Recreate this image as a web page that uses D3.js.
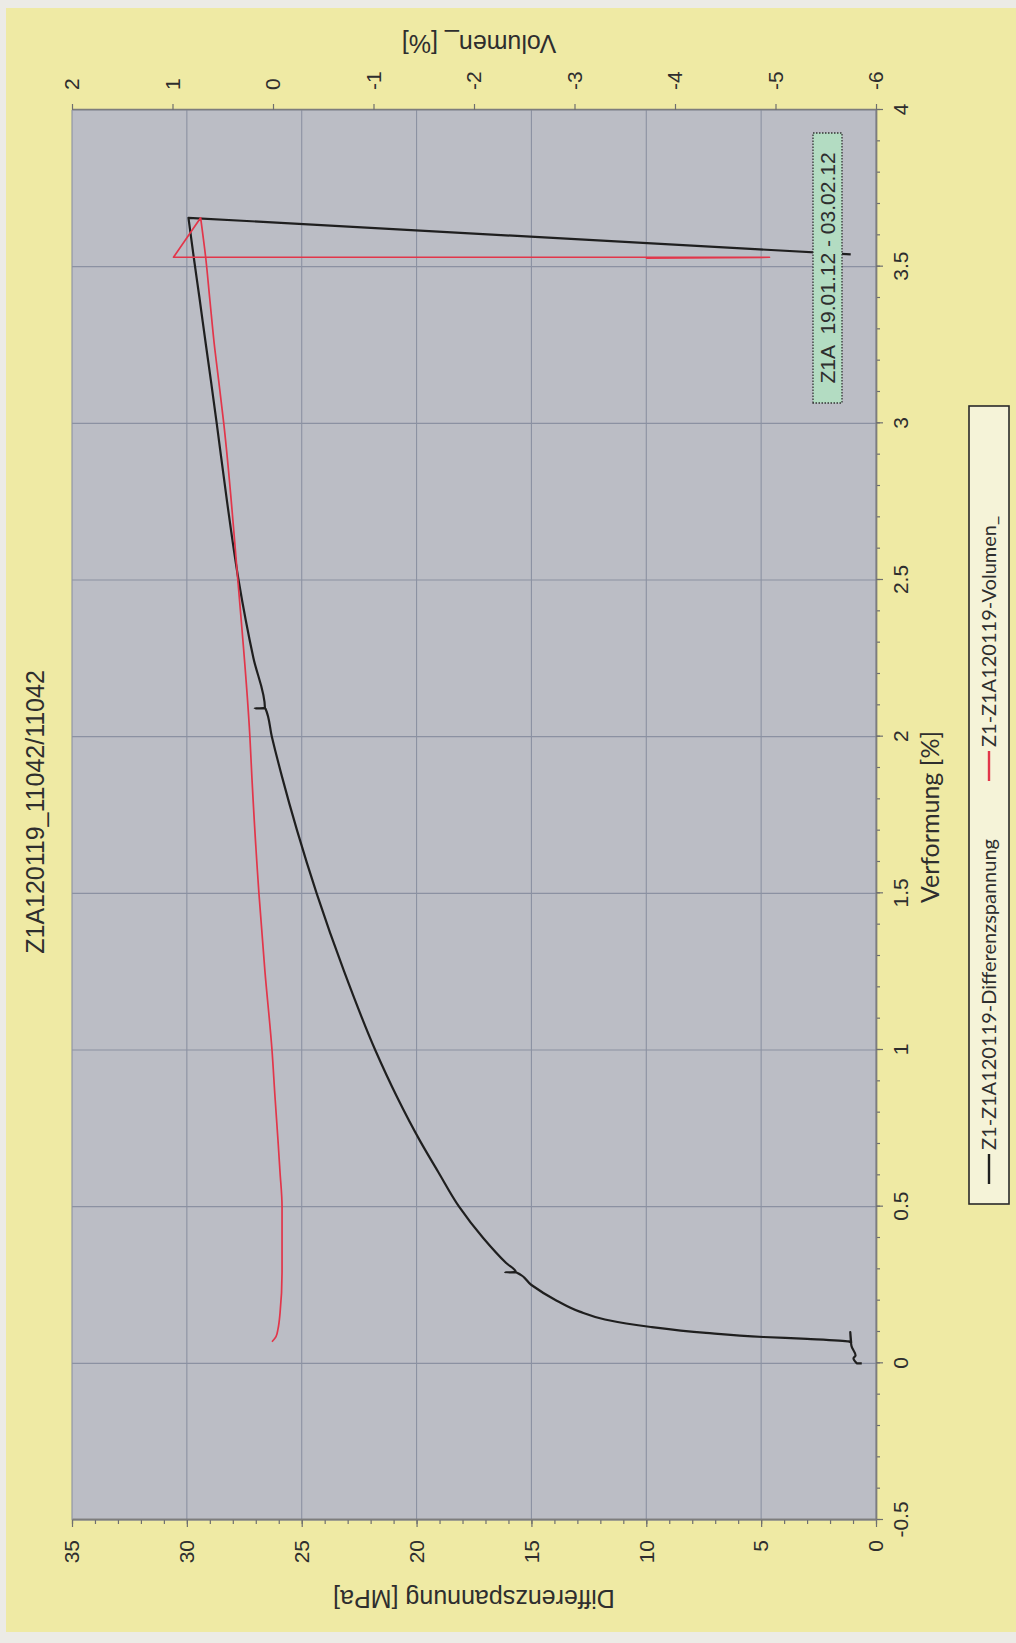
<!DOCTYPE html>
<html>
<head>
<meta charset="utf-8">
<script src="https://cdn.jsdelivr.net/npm/d3@7"></script>
<style>
  body { margin: 0; background: #ecebe6; }
  svg { display: block; }
</style>
</head>
<body>
<svg id="chart" width="1016" height="1643"></svg>
<script>
// ---- data -------------------------------------------------------------
const chartTitle = "Z1A120119_11042/11042";
const xTitle = "Verformung [%]";
const yLeftTitle = "Differenzspannung [MPa]";
const yRightTitle = "Volumen_ [%]";
const seriesNames = ["Z1-Z1A120119-Differenzspannung", "Z1-Z1A120119-Volumen_"];
const boxLabel = "Z1A  19.01.12 - 03.02.12";

const xTicks = [-0.5, 0, 0.5, 1, 1.5, 2, 2.5, 3, 3.5, 4];
const yLeftTicks = [0, 5, 10, 15, 20, 25, 30, 35];
const yRightTicks = [-6, -5, -4, -3, -2, -1, 0, 1, 2];

// Differenzspannung [MPa] over Verformung [%]
const verformungD = [0.000, 0.000, 0.016, 0.025, 0.056, 0.100, 0.066, 0.070, 0.078, 0.084,
  0.097, 0.116, 0.140, 0.165, 0.200, 0.250, 0.2900, 0.2905, 0.2910, 0.320, 0.400, 0.500,
  0.610, 0.710, 0.850, 1.000, 1.250, 1.500, 1.700, 1.870, 2.000, 2.0900, 2.0905, 2.0910,
  2.250, 2.500, 2.750, 3.000, 3.135, 3.250, 3.400, 3.530, 3.656, 3.540, 3.539];
const spannung = [0.62, 0.84, 0.98, 0.89, 1.07, 1.12, 1.08, 1.20, 3.00, 4.90,
  7.40, 9.80, 11.80, 12.90, 13.90, 15.00, 15.65, 16.15, 15.68, 16.10, 17.10, 18.15,
  19.05, 19.85, 20.85, 21.80, 23.15, 24.35, 25.20, 25.85, 26.30, 26.58, 27.05, 26.60,
  27.10, 27.75, 28.25, 28.70, 28.95, 29.17, 29.45, 29.70, 29.93, 1.30, 1.10];

// Volumen_ [%] over Verformung [%]
const verformungV = [0.069, 0.085, 0.110, 0.160, 0.290, 0.500, 0.610, 0.710, 0.850, 1.000,
  1.250, 1.500, 1.870, 2.000, 2.500, 3.000, 3.135, 3.240, 3.400, 3.530, 3.656, 3.530,
  3.530, 3.527];
const volumen = [0.01, -0.03, -0.05, -0.07, -0.09, -0.09, -0.07, -0.05, -0.02, 0.01,
  0.08, 0.14, 0.21, 0.23, 0.35, 0.49, 0.54, 0.58, 0.63, 0.67, 0.72, 0.99,
  -4.94, -3.71];

// ---- layout -----------------------------------------------------------
const PAGE_W = 1016, PAGE_H = 1643;
const plot = { left: 123, right: 1533, top: 72, bottom: 876 };   // landscape frame
const numFont = "'Liberation Sans', Arial, sans-serif";
const textFont = "Lato, 'Open Sans', sans-serif";
const ink = "#2e2e2e";

const svg = d3.select("#chart");
svg.append("rect").attr("width", PAGE_W).attr("height", PAGE_H).attr("fill", "#ecebe6");
svg.append("rect").attr("x", 6).attr("y", 8).attr("width", PAGE_W - 6).attr("height", 1624)
  .attr("fill", "#efeaa4");

// the chart is laid out in landscape and turned a quarter turn onto the page
const g = svg.append("g").attr("transform", `translate(0,${PAGE_H}) rotate(-90)`);

const x = d3.scaleLinear().domain([-0.5, 4]).range([plot.left, plot.right]);
const yL = d3.scaleLinear().domain([0, 35]).range([plot.bottom, plot.top]);
const yR = d3.scaleLinear().domain([-6, 2]).range([plot.bottom, plot.top]);

// plot area
g.append("rect")
  .attr("x", plot.left).attr("y", plot.top)
  .attr("width", plot.right - plot.left).attr("height", plot.bottom - plot.top)
  .attr("fill", "#bbbdc5");

// gridlines
const grid = g.append("g").attr("stroke", "#8b91a2").attr("stroke-width", 1.1);
grid.selectAll("line.gx").data(xTicks).join("line").attr("class", "gx")
  .attr("x1", d => x(d)).attr("x2", d => x(d))
  .attr("y1", plot.top).attr("y2", plot.bottom);
grid.selectAll("line.gy").data(yLeftTicks).join("line").attr("class", "gy")
  .attr("x1", plot.left).attr("x2", plot.right)
  .attr("y1", d => yL(d)).attr("y2", d => yL(d));

// axes
function styleAxis(sel) {
  sel.selectAll("path.domain").attr("stroke", "#7d7d7d").attr("stroke-width", 1.4);
  sel.selectAll(".tick line").attr("stroke", "#6f6f6f").attr("stroke-width", 1.2);
  sel.selectAll(".tick text").attr("fill", ink).attr("font-family", numFont).attr("font-size", 21);
}
const fmt = d => String(d);

const minorX = d3.range(-5, 41).map(i => i / 10);
g.append("g").attr("transform", `translate(0,${plot.bottom})`)
  .call(d3.axisBottom(x).tickValues(minorX).tickSize(4).tickSizeOuter(0).tickFormat(""))
  .call(styleAxis);
g.append("g").attr("transform", `translate(0,${plot.bottom})`)
  .call(d3.axisBottom(x).tickValues(xTicks).tickSize(7).tickSizeOuter(0).tickPadding(10).tickFormat(fmt))
  .call(styleAxis);

const minorY = d3.range(0, 36);
g.append("g").attr("transform", `translate(${plot.left},0)`)
  .call(d3.axisLeft(yL).tickValues(minorY).tickSize(4).tickSizeOuter(0).tickFormat(""))
  .call(styleAxis);
g.append("g").attr("transform", `translate(${plot.left},0)`)
  .call(d3.axisLeft(yL).tickValues(yLeftTicks).tickSize(7).tickSizeOuter(0).tickPadding(13).tickFormat(fmt))
  .call(styleAxis);

g.append("g").attr("transform", `translate(${plot.right},0)`)
  .call(d3.axisRight(yR).tickValues(yRightTicks).tickSize(6).tickSizeOuter(0).tickPadding(14).tickFormat(fmt))
  .call(styleAxis);

// axis titles and chart title
g.append("text").text(chartTitle)
  .attr("x", 831).attr("y", 35).attr("dy", "0.35em")
  .attr("text-anchor", "middle").attr("font-family", numFont).attr("font-size", 25).attr("fill", ink);

g.append("text").text(xTitle)
  .attr("x", 826).attr("y", 930).attr("dy", "0.35em")
  .attr("text-anchor", "middle").attr("font-family", textFont).attr("font-size", 25).attr("fill", ink);

g.append("text").text(yLeftTitle)
  .attr("transform", `translate(44,474) rotate(-90)`).attr("dy", "0.35em")
  .attr("text-anchor", "middle").attr("font-family", numFont).attr("font-size", 25).attr("fill", ink);

g.append("text").text(yRightTitle)
  .attr("transform", `translate(1599,479) rotate(-90)`).attr("dy", "0.35em")
  .attr("text-anchor", "middle").attr("font-family", numFont).attr("font-size", 25).attr("fill", ink);

// series
g.append("clipPath").attr("id", "plotClip").append("rect")
  .attr("x", plot.left).attr("y", plot.top)
  .attr("width", plot.right - plot.left).attr("height", plot.bottom - plot.top);

// Runs where strain keeps increasing are drawn as smooth curves; the
// reversals between them (start-up jitter, unloading) stay straight.
function seriesPath(pts, yScale) {
  const smoothLine = d3.line().x(d => x(d[0])).y(d => yScale(d[1])).curve(d3.curveMonotoneX);
  const runs = [];
  let start = 0;
  for (let i = 1; i <= pts.length; i++) {
    if (i === pts.length || pts[i][0] <= pts[i - 1][0]) { runs.push(pts.slice(start, i)); start = i; }
  }
  let d = "";
  runs.forEach((run, k) => {
    let piece;
    if (run.length === 1) piece = `M${x(run[0][0])},${yScale(run[0][1])}`;
    else piece = smoothLine(run);
    d += k === 0 ? piece : "L" + piece.slice(1);
  });
  return d;
}

g.append("path").attr("d", seriesPath(d3.zip(verformungD, spannung), yL))
  .attr("clip-path", "url(#plotClip)")
  .attr("fill", "none").attr("stroke", "#1f1f1f").attr("stroke-width", 2.2)
  .attr("stroke-linejoin", "round");
g.append("path").attr("d", seriesPath(d3.zip(verformungV, volumen), yR))
  .attr("clip-path", "url(#plotClip)")
  .attr("fill", "none").attr("stroke", "#e2364a").attr("stroke-width", 1.7)
  .attr("stroke-linejoin", "round");

// date label box
const box = g.append("g");
box.append("rect").attr("x", 1240).attr("y", 813).attr("width", 270).attr("height", 29)
  .attr("fill", "#b3dcc2").attr("stroke", "#333").attr("stroke-width", 1.3)
  .attr("stroke-dasharray", "1.5,1.5");
box.append("text").text(boxLabel).attr("xml:space", "preserve")
  .attr("x", 1375).attr("y", 827.5).attr("dy", "0.36em")
  .attr("text-anchor", "middle").attr("font-family", numFont).attr("font-size", 21).attr("fill", ink);

// legend
const legend = g.append("g");
legend.append("rect").attr("x", 439).attr("y", 969).attr("width", 798).attr("height", 40)
  .attr("fill", "#f5f3d8").attr("stroke", "#2a2a2a").attr("stroke-width", 1.6);
const legendItems = [
  { name: seriesNames[0], color: "#1f1f1f", x0: 459 },
  { name: seriesNames[1], color: "#e2364a", x0: 862 }
];
legendItems.forEach(it => {
  legend.append("line").attr("x1", it.x0).attr("x2", it.x0 + 30)
    .attr("y1", 989).attr("y2", 989).attr("stroke", it.color).attr("stroke-width", 2.4);
  legend.append("text").text(it.name)
    .attr("x", it.x0 + 34).attr("y", 989).attr("dy", "0.35em")
    .attr("font-family", textFont).attr("font-size", 20).attr("fill", ink);
});
</script>
</body>
</html>
